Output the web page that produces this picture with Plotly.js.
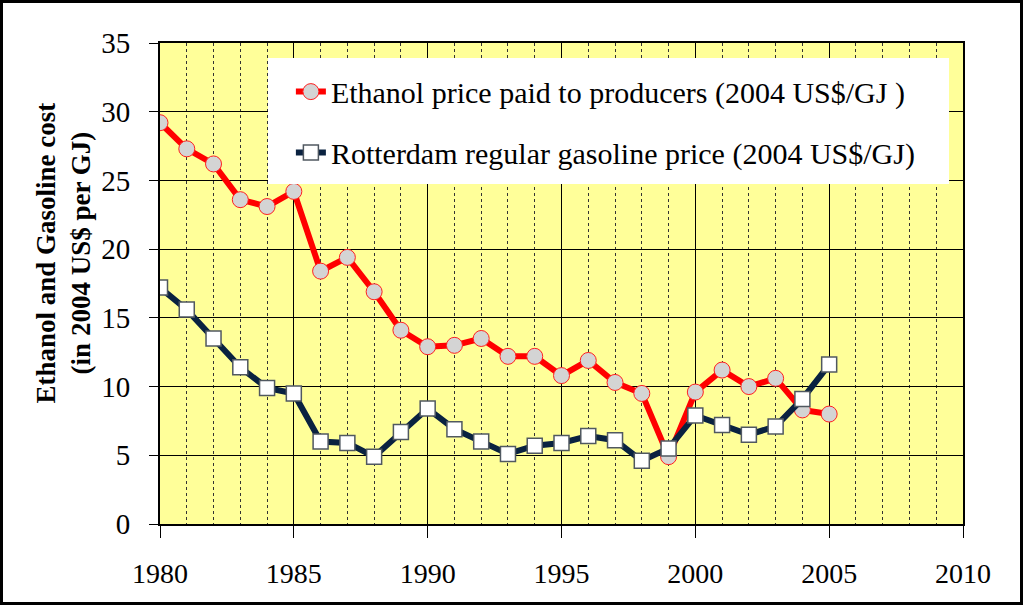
<!DOCTYPE html>
<html>
<head>
<meta charset="utf-8">
<script src="https://cdn.plot.ly/plotly-3.0.1.min.js"></script>
<style>
html,body{margin:0;padding:0;background:#fff;}
#wrap{position:relative;width:1023px;height:605px;}
#chart{width:1023px;height:605px;}
#frame{position:absolute;left:0;top:0;width:1023px;height:605px;box-sizing:border-box;border:3px solid #000;pointer-events:none;}
</style>
</head>
<body>
<div id="wrap"><div id="chart"></div><div id="frame"></div></div>
<script>
var years = [1980,1981,1982,1983,1984,1985,1986,1987,1988,1989,1990,1991,1992,1993,1994,1995,1996,1997,1998,1999,2000,2001,2002,2003,2004,2005];
var ethanolPrice = [29.2,27.3,26.2,23.6,23.1,24.2,18.4,19.4,16.9,14.1,12.9,13.0,13.5,12.2,12.2,10.8,11.9,10.3,9.5,4.9,9.6,11.2,10.0,10.6,8.3,8.0];
var gasolinePrice = [17.2,15.6,13.5,11.4,9.9,9.5,6.0,5.9,4.9,6.7,8.4,6.9,6.0,5.1,5.7,5.9,6.4,6.1,4.6,5.5,7.9,7.2,6.5,7.1,9.1,11.6];
var ethanolName = "Ethanol price paid to producers (2004 US$/GJ )";
var gasolineName = "Rotterdam regular gasoline price (2004 US$/GJ)";
var yTitle = "Ethanol and Gasoline cost<br>(in 2004 US$ per GJ)";

var serif = "Liberation Serif";

var traces = [
  {
    x: years, y: ethanolPrice, name: ethanolName, type: "scatter", mode: "lines+markers",
    legendgroup: "a",
    line: {color: "#ff0000", width: 6},
    marker: {symbol: "circle", size: 16, color: "#d4d4d4", line: {color: "#ff2020", width: 1}}
  },
  {
    x: years, y: gasolinePrice, name: gasolineName, type: "scatter", mode: "lines+markers",
    legendgroup: "b",
    line: {color: "#0a2240", width: 6},
    marker: {symbol: "square", size: 15, color: "#ffffff", line: {color: "#505860", width: 1.5}}
  }
];

var layout = {
  width: 1023, height: 605,
  margin: {l: 160, r: 60, t: 43, b: 81},
  paper_bgcolor: "#ffffff",
  plot_bgcolor: "#ffff99",
  showlegend: true,
  legend: {
    x: 0.163, y: 0.953, xanchor: "left", yanchor: "top",
    bgcolor: "rgba(0,0,0,0)", borderwidth: 0,
    font: {family: serif, size: 30, color: "#000"},
    traceorder: "grouped", tracegroupgap: 19
  },
  xaxis: {
    range: [1980, 2010], dtick: 5, tick0: 1980,
    showgrid: true, gridcolor: "#000", gridwidth: 1,
    minor: {dtick: 1, showgrid: true, gridcolor: "#333", griddash: "dot", gridwidth: 1},
    ticks: "outside", ticklen: 12, tickcolor: "#000", tickwidth: 1,
    ticklabelstandoff: 11,
    showline: true, linecolor: "#000", linewidth: 2, mirror: true,
    zeroline: false,
    tickfont: {family: serif, size: 28, color: "#000"}
  },
  yaxis: {
    range: [0, 35], dtick: 5, tick0: 0,
    showgrid: true, gridcolor: "#000", gridwidth: 1,
    ticks: "outside", ticklen: 9, tickcolor: "#000", tickwidth: 1,
    ticklabelstandoff: 13,
    showline: true, linecolor: "#000", linewidth: 2, mirror: true,
    zeroline: false,
    tickfont: {family: serif, size: 29, color: "#000"}
  },
  annotations: [
    {
      text: yTitle, xref: "paper", yref: "paper", x: -0.1204, y: 0.563,
      xanchor: "center", yanchor: "middle", textangle: -90, showarrow: false,
      font: {family: serif, size: 27, color: "#000", weight: "bold"}
    }
  ],
  shapes: [
    {
      type: "rect", xref: "paper", yref: "paper", layer: "above",
      x0: 0.1345, x1: 0.9826, y0: 0.7069, y1: 0.9688,
      fillcolor: "#ffffff", line: {width: 0}
    }
  ]
};

Plotly.newPlot("chart", traces, layout, {displayModeBar: false, staticPlot: true});
</script>
</body>
</html>
